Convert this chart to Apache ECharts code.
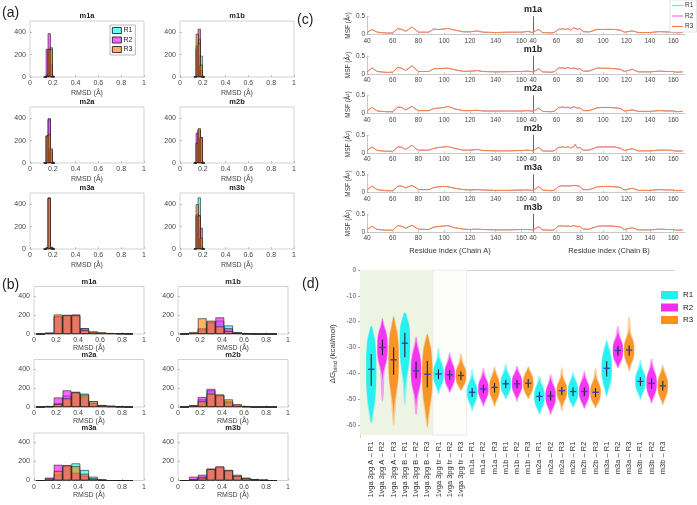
<!DOCTYPE html>
<html>
<head>
<meta charset="utf-8">
<script src="https://cdn.jsdelivr.net/npm/echarts@6/dist/echarts.min.js"></script>
<style>
  html, body { margin: 0; padding: 0; background: #fff; }
  #main { width: 697px; height: 505px; }
</style>
</head>
<body>
<div id="main"></div>
<script>
// ---- data ----
const reps = ['R1', 'R2', 'R3'];
const models = ['m1a', 'm1b', 'm2a', 'm2b', 'm3a', 'm3b'];

// (a) RMSD histograms, narrow bins
const aBins = [0.135, 0.152, 0.169, 0.186, 0.203];
const aM1a = [[0, 20, 240, 265, 5], [0, 250, 390, 110, 0], [0, 10, 250, 250, 10]];
const aM1b = [[0, 280, 340, 190, 5], [5, 250, 430, 60, 0], [5, 385, 300, 110, 0]];
const aM2a = [[0, 240, 400, 100, 0], [0, 245, 390, 120, 0], [0, 245, 255, 130, 0]];
const aM2b = [[0, 180, 300, 220, 0], [0, 270, 290, 230, 0], [0, 180, 310, 230, 0]];
const aM3a = [[0, 15, 455, 20, 0], [0, 10, 460, 15, 0], [0, 15, 455, 10, 0]];
const aM3b = [[5, 300, 460, 20, 0], [0, 310, 300, 190, 0], [5, 400, 300, 100, 0]];

// (b) RMSD histograms, wide bins
const bBins = [0.06, 0.14, 0.22, 0.30, 0.38, 0.46, 0.54, 0.62, 0.70, 0.78, 0.86];
const bM1a = [[0, 10, 180, 200, 190, 60, 25, 15, 8, 5, 2], [0, 15, 190, 195, 205, 60, 20, 10, 8, 5, 2], [0, 10, 205, 200, 200, 40, 25, 15, 10, 5, 2]];
const bM1b = [[0, 10, 60, 120, 140, 90, 20, 5, 0, 0, 0], [0, 10, 50, 130, 175, 60, 15, 5, 0, 0, 0], [0, 20, 165, 140, 80, 30, 10, 0, 0, 0, 0]];
const bM2a = [[0, 5, 40, 120, 160, 140, 60, 20, 10, 3, 0], [0, 10, 100, 175, 150, 110, 40, 15, 5, 2, 0], [0, 5, 30, 90, 155, 130, 60, 20, 15, 5, 0]];
const bM2b = [[0, 10, 80, 175, 130, 60, 20, 5, 0, 0, 0], [0, 20, 105, 190, 120, 50, 15, 5, 0, 0, 0], [0, 15, 60, 140, 130, 80, 30, 10, 0, 0, 0]];
const bM3a = [[0, 5, 60, 150, 180, 110, 40, 10, 0, 0, 0], [0, 30, 165, 160, 80, 50, 20, 5, 0, 0, 0], [0, 20, 100, 160, 150, 70, 20, 5, 0, 0, 0]];
const bM3b = [[0, 5, 40, 120, 140, 110, 60, 30, 15, 5, 0], [0, 40, 60, 125, 140, 100, 45, 20, 10, 5, 0], [0, 10, 30, 120, 150, 110, 50, 25, 10, 5, 0]];

// (c) MSF per residue
const resA = [40, 44, 48, 55, 60, 64, 67, 70, 75, 78, 80, 88, 92, 95, 100, 103, 108, 115, 120, 126, 130, 140, 150, 160, 165, 169];
const resB = [40, 42, 45, 48, 55, 58, 62, 66, 68, 70, 72, 75, 76, 78, 80, 83, 88, 95, 100, 105, 110, 115, 118, 125, 130, 140, 148, 155, 160, 163, 168];
const msfA_m1a = [0.055, 0.14, 0.065, 0.04, 0.045, 0.165, 0.145, 0.09, 0.21, 0.12, 0.065, 0.065, 0.155, 0.14, 0.155, 0.17, 0.125, 0.075, 0.075, 0.1, 0.065, 0.055, 0.065, 0.065, 0.085, 0.055];
const msfB_m1a = [0.055, 0.1, 0.14, 0.055, 0.045, 0.055, 0.145, 0.16, 0.14, 0.17, 0.12, 0.19, 0.245, 0.145, 0.17, 0.08, 0.07, 0.145, 0.14, 0.145, 0.14, 0.12, 0.065, 0.1, 0.055, 0.055, 0.08, 0.07, 0.07, 0.045, 0.055];
const msfA_m1b = [0.06, 0.17, 0.07, 0.045, 0.05, 0.19, 0.16, 0.1, 0.23, 0.13, 0.07, 0.07, 0.15, 0.15, 0.16, 0.165, 0.12, 0.075, 0.08, 0.095, 0.07, 0.06, 0.065, 0.07, 0.08, 0.06];
const msfB_m1b = [0.06, 0.09, 0.15, 0.06, 0.05, 0.06, 0.17, 0.17, 0.16, 0.19, 0.15, 0.17, 0.2, 0.14, 0.15, 0.08, 0.08, 0.17, 0.16, 0.16, 0.15, 0.13, 0.07, 0.13, 0.06, 0.06, 0.08, 0.07, 0.07, 0.05, 0.06];
const msfA_m2a = [0.07, 0.17, 0.07, 0.05, 0.05, 0.18, 0.17, 0.1, 0.2, 0.12, 0.08, 0.08, 0.14, 0.15, 0.17, 0.2, 0.13, 0.08, 0.08, 0.09, 0.07, 0.07, 0.07, 0.07, 0.08, 0.06];
const msfB_m2a = [0.06, 0.1, 0.15, 0.06, 0.05, 0.06, 0.17, 0.18, 0.16, 0.18, 0.15, 0.19, 0.2, 0.15, 0.16, 0.08, 0.08, 0.16, 0.17, 0.17, 0.16, 0.14, 0.07, 0.1, 0.06, 0.06, 0.08, 0.07, 0.07, 0.05, 0.06];
const msfA_m2b = [0.07, 0.17, 0.07, 0.05, 0.05, 0.17, 0.16, 0.1, 0.22, 0.12, 0.08, 0.08, 0.13, 0.15, 0.17, 0.18, 0.13, 0.08, 0.08, 0.1, 0.07, 0.06, 0.06, 0.07, 0.08, 0.06];
const msfB_m2b = [0.06, 0.1, 0.16, 0.06, 0.05, 0.06, 0.16, 0.17, 0.15, 0.18, 0.14, 0.18, 0.24, 0.14, 0.15, 0.08, 0.08, 0.17, 0.17, 0.17, 0.17, 0.13, 0.07, 0.12, 0.06, 0.06, 0.08, 0.08, 0.07, 0.05, 0.06];
const msfA_m3a = [0.07, 0.18, 0.08, 0.05, 0.05, 0.18, 0.18, 0.13, 0.2, 0.13, 0.08, 0.08, 0.14, 0.16, 0.17, 0.16, 0.12, 0.08, 0.07, 0.08, 0.07, 0.06, 0.06, 0.07, 0.07, 0.06];
const msfB_m3a = [0.06, 0.1, 0.17, 0.07, 0.05, 0.06, 0.17, 0.19, 0.18, 0.19, 0.18, 0.2, 0.21, 0.19, 0.17, 0.08, 0.08, 0.16, 0.17, 0.17, 0.16, 0.14, 0.07, 0.12, 0.06, 0.06, 0.08, 0.07, 0.07, 0.05, 0.06];
const msfA_m3b = [0.07, 0.16, 0.07, 0.05, 0.05, 0.18, 0.16, 0.11, 0.19, 0.12, 0.08, 0.07, 0.14, 0.15, 0.17, 0.18, 0.12, 0.08, 0.07, 0.08, 0.07, 0.06, 0.06, 0.07, 0.07, 0.06];
const msfB_m3b = [0.06, 0.09, 0.15, 0.06, 0.05, 0.06, 0.17, 0.17, 0.16, 0.17, 0.15, 0.18, 0.2, 0.15, 0.16, 0.08, 0.08, 0.16, 0.17, 0.17, 0.16, 0.14, 0.07, 0.12, 0.06, 0.06, 0.08, 0.07, 0.07, 0.05, 0.06];

// (d) binding free energy distributions
const dCats = [
  '1vga 3pg A – R1', '1vga 3pg A – R2', '1vga 3pg A – R3',
  '1vga 3pg B – R1', '1vga 3pg B – R2', '1vga 3pg B – R3',
  '1vga 3pg tr – R1', '1vga 3pg tr – R2', '1vga 3pg tr – R3',
  'm1a – R1', 'm1a – R2', 'm1a – R3', 'm1b – R1', 'm1b – R2', 'm1b – R3',
  'm2a – R1', 'm2a – R2', 'm2a – R3', 'm2b – R1', 'm2b – R2', 'm2b – R3',
  'm3a – R1', 'm3a – R2', 'm3a – R3', 'm3b – R1', 'm3b – R2', 'm3b – R3'
];
const dMin = [-59.4, -51, -60.4, -52.3, -56.3, -61, -48.1, -47.5, -46.7, -54.8, -52.9, -52.9, -50, -51, -50, -56.1, -56.1, -54.8, -53.3, -53.8, -53.5, -49, -38, -39.4, -50.3, -51.6, -52.3];
const dMax = [-21.7, -18.7, -18, -16.5, -25.8, -24.8, -30, -31.9, -32.3, -38.3, -38, -37.4, -36.1, -37.2, -37.4, -41, -40.4, -37.7, -39.4, -39.1, -38, -27.1, -21.7, -18, -34.8, -34.2, -36.8];
const dMean = [-38.5, -30, -34.8, -28.4, -39.1, -40.4, -40.3, -40.6, -40.9, -47.4, -46.1, -45.5, -44.1, -44.1, -43.9, -49, -48.8, -46.8, -47.1, -47.1, -47.4, -38.1, -31.2, -31, -43.2, -43.9, -44.9];
const dSdTop = [-32.6, -27, -30, -24.3, -35.5, -35.2, -38.5, -38.8, -39.3, -45.8, -44.5, -43.8, -42.6, -42.6, -42.3, -47.2, -47, -45.3, -45.5, -45.5, -45.8, -35.4, -29.5, -29.2, -41.5, -42, -43];
const dSdBot = [-44.9, -33, -40.6, -33.8, -42, -45.5, -42.3, -42.5, -42.7, -49.2, -47.8, -47.5, -45.8, -45.8, -45.6, -50.8, -50.6, -48.5, -48.9, -48.9, -49.2, -41.3, -33.2, -33.2, -45, -46, -46.8];

// ---- styling ----
const FONT = 'Liberation Sans';
const histColors = ['rgba(0,255,255,0.6)', 'rgba(255,0,255,0.6)', 'rgba(255,128,0,0.6)'];
const lineColors = ['#5ee8f2', '#ff6cf5', '#f7813f'];
const vioColors = ['#1ff0f0', '#f22cf2', '#f7901f'];

const grids = [], xAxes = [], yAxes = [], series = [], graphics = [];

function text(x, y, str, size, opts) {
  graphics.push({
    type: 'text', x: x, y: y, silent: true,
    style: Object.assign({
      text: str, fontFamily: FONT, fontSize: size, fill: '#222',
      textAlign: 'center', textVerticalAlign: 'middle'
    }, opts || {})
  });
}

function histPanel(left, top, w, h, name, bins, binW, counts, nameGap) {
  const gi = grids.length;
  grids.push({ left: left, top: top, width: w, height: h, show: true, borderColor: '#c6c6c6', borderWidth: 0.8 });
  xAxes.push({
    gridIndex: gi, type: 'value', min: 0, max: 1, interval: 0.2,
    axisLine: { show: false }, splitLine: { show: false },
    axisTick: { inside: true, length: 2, lineStyle: { color: '#999', width: 0.6 } },
    axisLabel: { fontSize: 7, color: '#444', margin: 3, fontFamily: FONT },
    name: 'RMSD (Å)', nameLocation: 'middle', nameGap: nameGap,
    nameTextStyle: { fontSize: 7, color: '#444', fontFamily: FONT }
  });
  yAxes.push({
    gridIndex: gi, type: 'value', min: 0, max: 500, interval: 200,
    axisLine: { show: false }, splitLine: { show: false },
    axisTick: { inside: true, length: 2, lineStyle: { color: '#999', width: 0.6 } },
    axisLabel: { fontSize: 7, color: '#444', margin: 4, showMaxLabel: false, fontFamily: FONT }
  });
  counts.forEach(function (c, r) {
    series.push({
      name: reps[r], type: 'bar', xAxisIndex: gi, yAxisIndex: gi,
      barWidth: binW * w, barGap: '-100%', silent: true, animation: false,
      data: bins.map(function (b, k) { return [b, c[k]]; }),
      itemStyle: { color: histColors[r], borderColor: 'rgba(30,30,30,0.85)', borderWidth: 0.7 }
    });
  });
  text(left + w / 2, top - 5, name, 7.5, { fontWeight: 'bold' });
}

// (a)
const aData = [aM1a, aM1b, aM2a, aM2b, aM3a, aM3b];
const aTops = [21, 107, 193];
aData.forEach(function (d, i) {
  const col = i % 2, row = Math.floor(i / 2);
  histPanel(col === 0 ? 30 : 180, aTops[row], 114, 56, models[i], aBins, 0.028, d, 13);
});

// (b)
const bData = [bM1a, bM1b, bM2a, bM2b, bM3a, bM3b];
const bTops = [286.5, 359.5, 433];
bData.forEach(function (d, i) {
  const col = i % 2, row = Math.floor(i / 2);
  histPanel(col === 0 ? 34 : 178, bTops[row], 110, 47.5, models[i], bBins, 0.08, d, 11);
});

// (c)
const msfA = [msfA_m1a, msfA_m1b, msfA_m2a, msfA_m2b, msfA_m3a, msfA_m3b];
const msfB = [msfB_m1a, msfB_m1b, msfB_m2a, msfB_m2b, msfB_m3a, msfB_m3b];
const cLeftA = 367, cMid = 533, cRight = 685;
models.forEach(function (m, i) {
  const top = 16.7 + 39.5 * i, h = 17.8;
  const last = i === models.length - 1;
  [[cLeftA, cMid - cLeftA, resA, msfA[i], 169, 'Chain A'], [cMid, cRight - cMid, resB, msfB[i], 170, 'Chain B']].forEach(function (p, side) {
    const gi = grids.length;
    grids.push({ left: p[0], top: top, width: p[1], height: h });
    xAxes.push({
      gridIndex: gi, type: 'value', min: 40, max: p[4], interval: 20,
      axisLine: { lineStyle: { color: '#b0b0b0', width: 0.7 } }, splitLine: { show: false },
      axisTick: { inside: true, length: 2, lineStyle: { color: '#aaa', width: 0.6 } },
      axisLabel: { fontSize: 6.5, color: '#444', margin: 3, showMaxLabel: false, fontFamily: FONT },
      name: last ? 'Residue index (' + p[5] + ')' : '', nameLocation: 'middle', nameGap: 15,
      nameTextStyle: { fontSize: 7.5, color: '#333', fontFamily: FONT }
    });
    yAxes.push({
      gridIndex: gi, type: 'value', min: 0, max: 0.5, interval: 0.5,
      splitLine: { show: false },
      axisLine: { show: true, lineStyle: { color: side === 0 ? '#b0b0b0' : '#555', width: side === 0 ? 0.7 : 0.9 } },
      axisTick: { show: side === 0, inside: true, length: 2, lineStyle: { color: '#aaa', width: 0.6 } },
      axisLabel: { show: side === 0, fontSize: 6.5, color: '#444', margin: 2, fontFamily: FONT },
      name: side === 0 ? 'MSF (Å²)' : '', nameLocation: 'middle', nameGap: 12, nameRotate: 90,
      nameTextStyle: { fontSize: 6.5, color: '#333', fontFamily: FONT }
    });
    reps.forEach(function (r, k) {
      series.push({
        name: r, type: 'line', xAxisIndex: gi, yAxisIndex: gi, showSymbol: false,
        silent: true, animation: false,
        data: p[2].map(function (x, j) { return [x, p[3][j]]; }),
        lineStyle: { width: k === 2 ? 1 : 0.6, color: lineColors[k] }, itemStyle: { color: lineColors[k] }
      });
    });
  });
  text(cMid, 10 + 39.5 * i, m, 9, { fontWeight: 'bold' });
});

// (d)
const dGrid = grids.length;
grids.push({ left: 360, top: 270, width: 314, height: 167.7 });
xAxes.push({
  gridIndex: dGrid, type: 'value', min: 0, max: 28, interval: 1,
  axisLine: { lineStyle: { color: '#c4c4c4', width: 0.8 } }, splitLine: { show: false },
  axisTick: { show: false },
  axisLabel: {
    rotate: 90, fontSize: 7.5, color: '#333', margin: 4, fontFamily: FONT,
    formatter: function (v) { return dCats[v - 1] || ''; }
  }
});
yAxes.push({
  gridIndex: dGrid, type: 'value', min: -65, max: 0,
  axisLine: { show: true, lineStyle: { color: '#c4c4c4', width: 0.8 } }, splitLine: { show: false },
  axisTick: { show: true, length: 2, customValues: [0, -10, -20, -30, -40, -50, -60], lineStyle: { color: '#aaa' } },
  axisLabel: { fontSize: 6.5, color: '#555', margin: 4, fontFamily: FONT, customValues: [0, -10, -20, -30, -40, -50, -60] },
  name: 'ΔG{s|bind} (kcal/mol)', nameLocation: 'middle', nameGap: 22, nameRotate: 90,
  nameTextStyle: { fontSize: 8, color: '#333', fontFamily: FONT, rich: { s: { fontSize: 5.5, verticalAlign: 'bottom', padding: [4, 0, 0, 0], fontFamily: FONT } } }
});

// violin glyph: outline follows a bell profile around the mean, drawn through the axes
function renderViolin(params, api) {
  const x = api.value(0), lo = api.value(1), hi = api.value(2), mu = api.value(3);
  const st = api.value(4), sb = api.value(5);
  const color = api.visual('color');
  const half = 0.48, n = 48;
  const sig = Math.max((st - sb) * 0.95, 2.2);
  const oL = [], oR = [], iL = [], iR = [];
  for (let k = 0; k <= n; k++) {
    const y = lo + (hi - lo) * k / n;
    const z = (y - mu) / sig;
    const g = Math.exp(-0.5 * z * z * Math.abs(z) * 0.7);
    const t = Math.min(k, n - k) / n;
    const taper = Math.min(1, Math.sqrt(t / 0.1) * 0.7 + 0.15);
    const wo = half * (0.3 + 0.7 * g) * taper;
    const wi = half * 0.92 * g * taper;
    oL.push(api.coord([x - wo, y])); oR.push(api.coord([x + wo, y]));
    iL.push(api.coord([x - wi, y])); iR.push(api.coord([x + wi, y]));
  }
  const pTop = api.coord([x, st]), pBot = api.coord([x, sb]);
  const mL = api.coord([x - 0.28, mu]), mR = api.coord([x + 0.28, mu]);
  return {
    type: 'group',
    children: [
      { type: 'polygon', shape: { points: oL.concat(oR.reverse()), smooth: 0.3 }, style: { fill: color, opacity: 0.4 } },
      { type: 'polygon', shape: { points: iL.concat(iR.reverse()), smooth: 0.3 }, style: { fill: color, opacity: 0.92 } },
      { type: 'line', shape: { x1: pTop[0], y1: pTop[1], x2: pBot[0], y2: pBot[1] }, style: { stroke: '#151515', lineWidth: 1 } },
      { type: 'line', shape: { x1: mL[0], y1: mL[1], x2: mR[0], y2: mR[1] }, style: { stroke: '#2a3bd0', lineWidth: 1.3 } }
    ]
  };
}

reps.forEach(function (r, k) {
  const data = [];
  dCats.forEach(function (c, i) {
    if (i % 3 === k) data.push([i + 1, dMin[i], dMax[i], dMean[i], dSdTop[i], dSdBot[i]]);
  });
  const s = {
    name: r, type: 'custom', xAxisIndex: dGrid, yAxisIndex: dGrid,
    renderItem: renderViolin, data: data, silent: true, animation: false,
    encode: { x: 0, y: [1, 2] },
    itemStyle: { color: vioColors[k] }
  };
  if (k === 0) {
    s.markArea = {
      silent: true,
      data: [
        [{ coord: [0, 0], itemStyle: { color: '#eef4e4' } }, { coord: [6.5, -64] }],
        [{ coord: [6.5, 0], itemStyle: { color: '#fcfdfb', borderColor: '#e4ebda', borderWidth: 0.8 } }, { coord: [9.5, -64] }]
      ]
    };
  }
  series.push(s);
});

// panel labels
text(2, 13, '(a)', 14, { textAlign: 'left' });
text(2, 285, '(b)', 14, { textAlign: 'left' });
text(297, 20, '(c)', 14, { textAlign: 'left' });
text(302, 284, '(d)', 14, { textAlign: 'left' });

const legendItem = function (colors, border) {
  return reps.map(function (r, k) {
    return { name: r, icon: 'rect', itemStyle: border ? { color: colors[k], borderColor: '#111', borderWidth: 0.8 } : { color: colors[k], borderWidth: 0 } };
  });
};

const chart = echarts.init(document.getElementById('main'), null, { renderer: 'canvas' });
chart.setOption({
  animation: false,
  backgroundColor: '#fff',
  textStyle: { fontFamily: FONT },
  grid: grids,
  xAxis: xAxes,
  yAxis: yAxes,
  legend: [
    {
      left: 110, top: 25, orient: 'vertical', selectedMode: false,
      itemWidth: 9, itemHeight: 6, itemGap: 2.5, padding: [2, 3, 2, 2],
      borderColor: '#8a8a8a', borderWidth: 0.6, backgroundColor: '#fff',
      textStyle: { fontSize: 7, color: '#222', padding: [0, 0, 0, -3] },
      data: legendItem(['#66ffff', '#ff66ff', '#ffb066'], true)
    },
    {
      left: 670, top: 0, orient: 'vertical', selectedMode: false,
      itemWidth: 11, itemHeight: 1.2, itemGap: 3.5, padding: [2, 3, 2, 2],
      borderColor: '#d0d0d0', borderWidth: 0.6, backgroundColor: '#fff',
      textStyle: { fontSize: 6.5, color: '#333', padding: [0, 0, 0, -3] },
      data: legendItem(lineColors, false)
    },
    {
      left: 656, top: 286, orient: 'vertical', selectedMode: false,
      itemWidth: 17, itemHeight: 8, itemGap: 4.5,
      textStyle: { fontSize: 8, color: '#222' },
      data: legendItem(vioColors, false)
    }
  ],
  series: series,
  graphic: graphics
});
</script>
</body>
</html>
